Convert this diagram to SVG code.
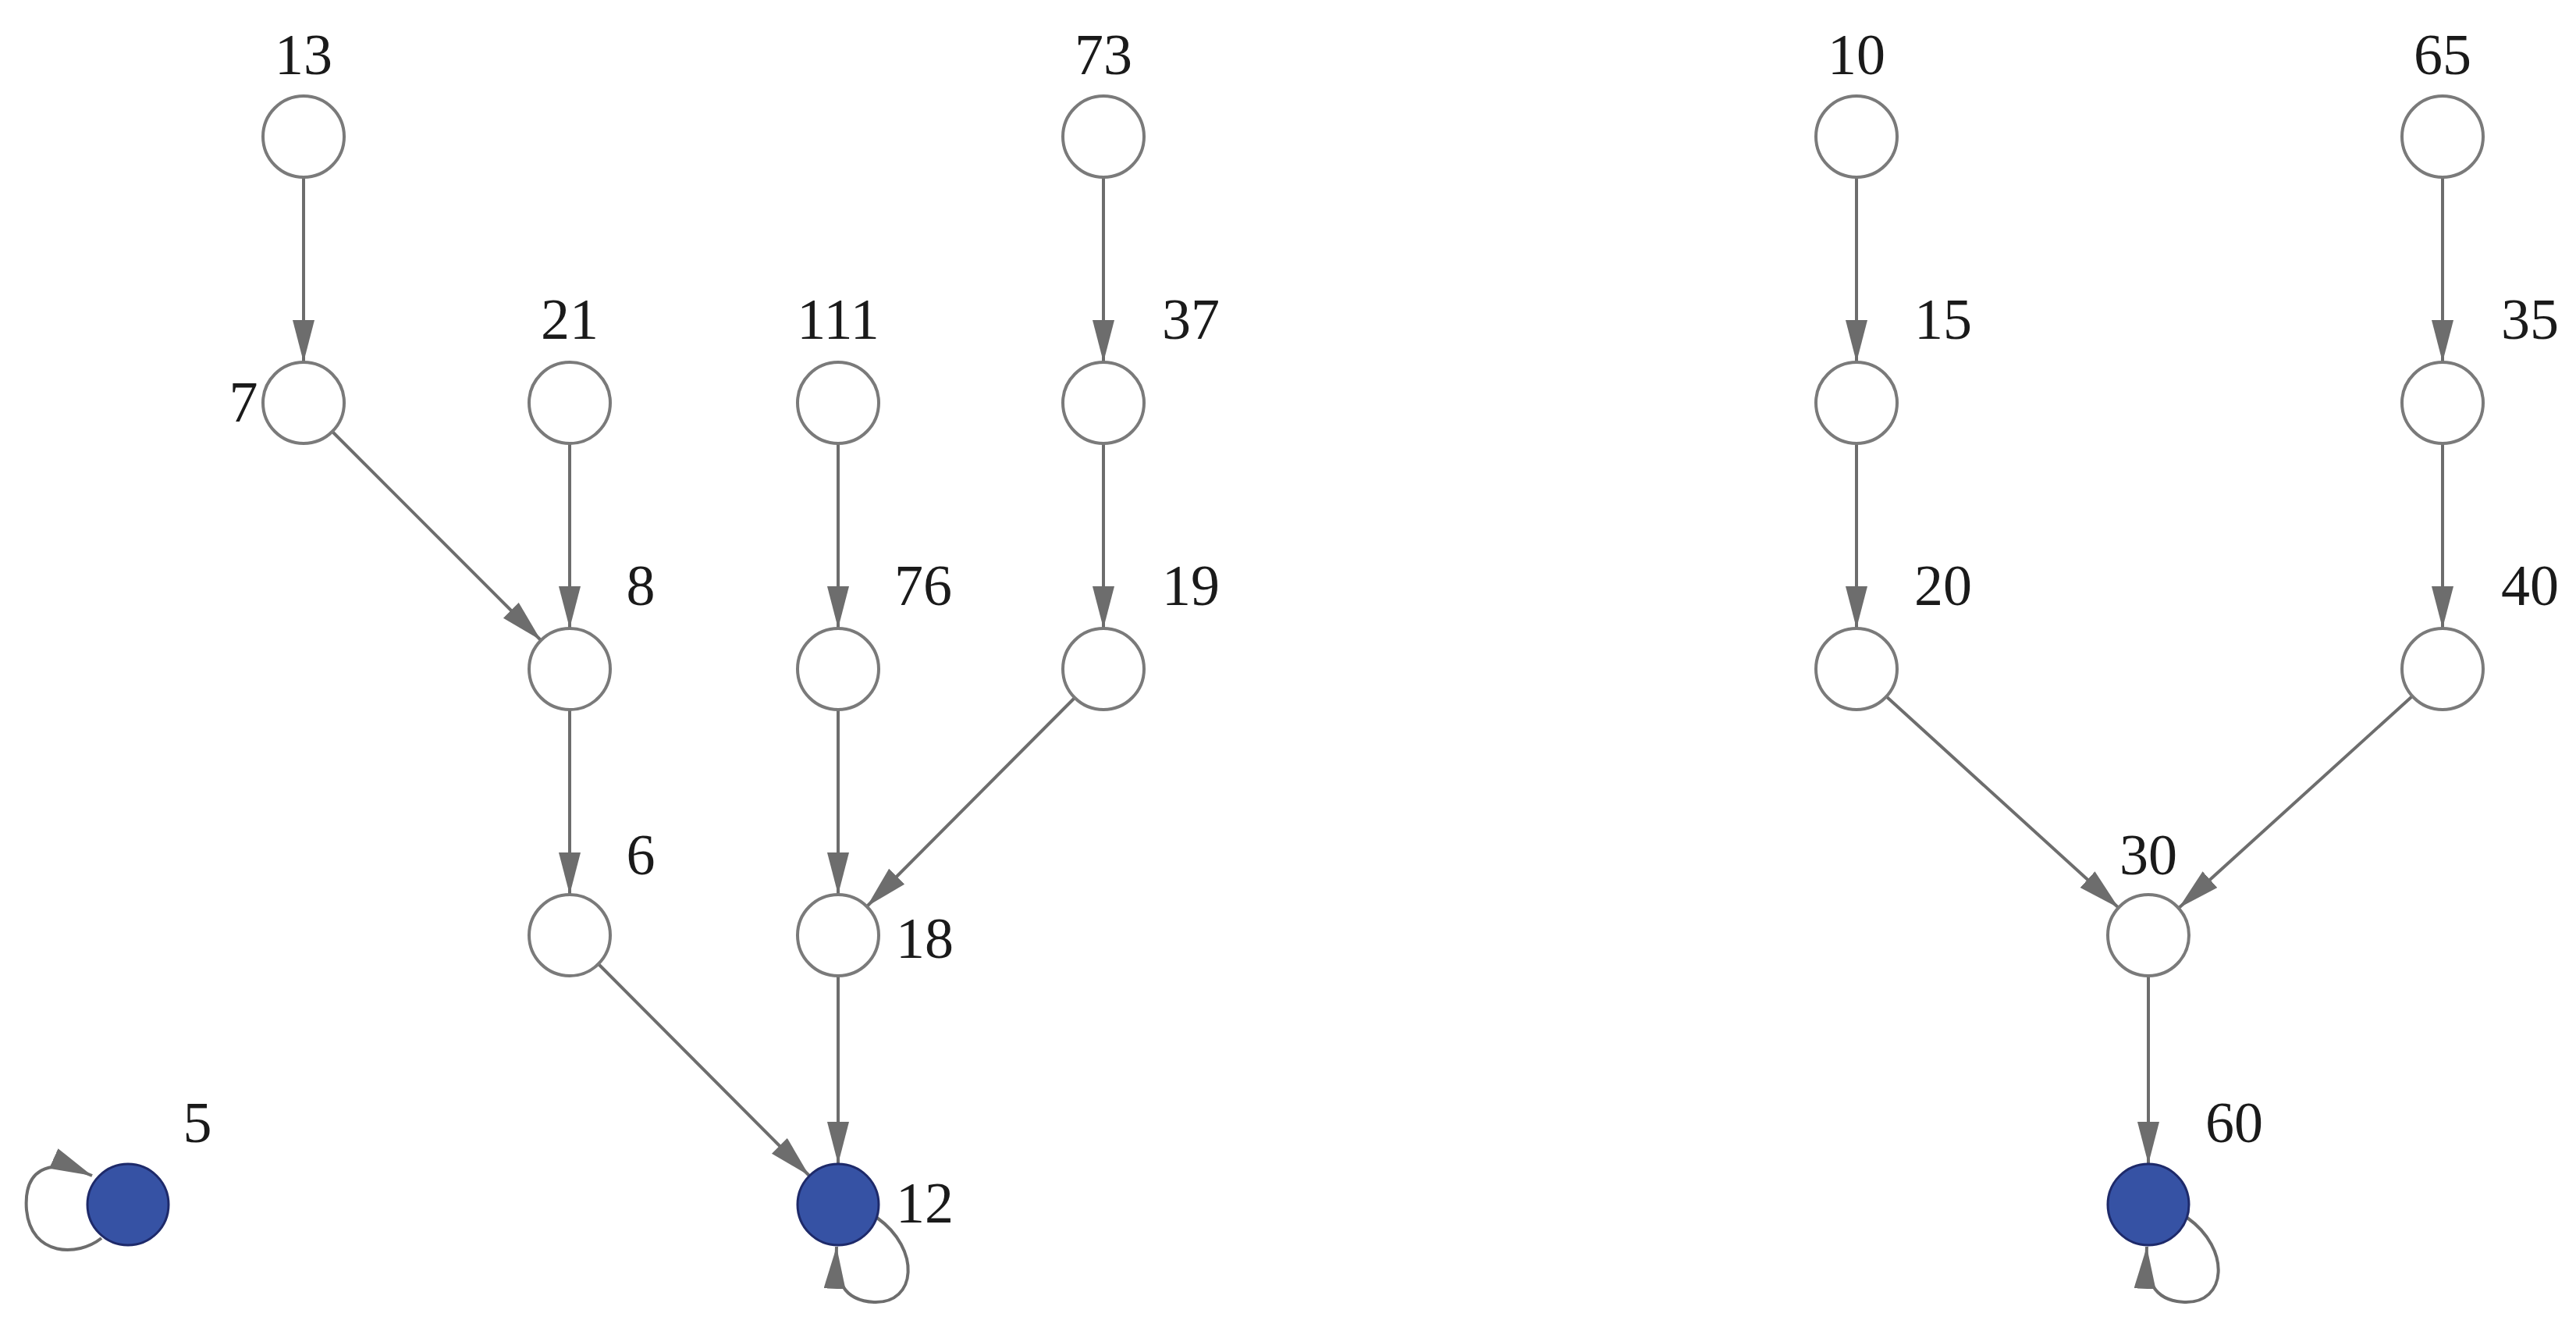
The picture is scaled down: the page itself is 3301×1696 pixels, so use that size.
<svg xmlns="http://www.w3.org/2000/svg" width="3301" height="1696" viewBox="0 0 3301 1696">
<style>
.n{fill:#fff;stroke:#7a7a7a;stroke-width:4}
.b{fill:#3652a4;stroke:#1e2a6a;stroke-width:3}
.t{font-family:"Liberation Serif",serif;font-size:74px;fill:#1a1a1a;text-anchor:middle}
.e{fill:none;stroke:#6d6d6d;stroke-width:4;marker-end:url(#a)}
</style>
<defs><marker id="a" markerUnits="userSpaceOnUse" markerWidth="56" markerHeight="30" refX="54" refY="14" orient="auto"><path d="M0,0 L54,14 L0,28 Z" fill="#6d6d6d"/></marker></defs>
<rect width="3301" height="1696" fill="#fff"/>
<g id="edges">
<line class="e" x1="389" y1="227" x2="389" y2="464"/>
<line class="e" x1="426" y1="553" x2="693" y2="820"/>
<line class="e" x1="730" y1="568" x2="730" y2="805"/>
<line class="e" x1="730" y1="909" x2="730" y2="1146"/>
<line class="e" x1="767" y1="1235" x2="1037" y2="1506"/>
<line class="e" x1="1074" y1="568" x2="1074" y2="805"/>
<line class="e" x1="1074" y1="909" x2="1074" y2="1146"/>
<line class="e" x1="1074" y1="1250" x2="1074" y2="1491"/>
<line class="e" x1="1414" y1="227" x2="1414" y2="464"/>
<line class="e" x1="1414" y1="568" x2="1414" y2="805"/>
<line class="e" x1="1377" y1="894" x2="1111" y2="1161"/>
<path class="e" d="M1124,1560 C1180,1600 1175,1670 1120,1668 C1080,1666 1070,1640 1072,1597"/>
<path class="e" d="M130,1586 C100,1610 40,1610 34,1550 C30,1500 60,1480 118,1506"/>
<line class="e" x1="2379" y1="227" x2="2379" y2="464"/>
<line class="e" x1="2379" y1="568" x2="2379" y2="805"/>
<line class="e" x1="3130" y1="227" x2="3130" y2="464"/>
<line class="e" x1="3130" y1="568" x2="3130" y2="805"/>
<line class="e" x1="2417" y1="892" x2="2715" y2="1163"/>
<line class="e" x1="3091" y1="892" x2="2792" y2="1163"/>
<line class="e" x1="2753" y1="1250" x2="2753" y2="1491"/>
<path class="e" d="M2803,1560 C2859,1600 2854,1670 2799,1668 C2759,1666 2749,1640 2751,1597"/>
</g>
<g id="n13"><circle class="n" cx="389" cy="175" r="52"/><text class="t" x="389" y="95">13</text></g>
<g id="n7"><circle class="n" cx="389" cy="516" r="52"/><text class="t" x="312" y="540">7</text></g>
<g id="n21"><circle class="n" cx="730" cy="516" r="52"/><text class="t" x="730" y="434">21</text></g>
<g id="n8"><circle class="n" cx="730" cy="857" r="52"/><text class="t" x="821" y="775">8</text></g>
<g id="n6"><circle class="n" cx="730" cy="1198" r="52"/><text class="t" x="821" y="1120">6</text></g>
<g id="n111"><circle class="n" cx="1074" cy="516" r="52"/><text class="t" x="1074" y="434">111</text></g>
<g id="n76"><circle class="n" cx="1074" cy="857" r="52"/><text class="t" x="1183" y="775">76</text></g>
<g id="n18"><circle class="n" cx="1074" cy="1198" r="52"/><text class="t" x="1185" y="1227">18</text></g>
<g id="n12"><circle class="b" cx="1074" cy="1543" r="52"/><text class="t" x="1185" y="1566">12</text></g>
<g id="n73"><circle class="n" cx="1414" cy="175" r="52"/><text class="t" x="1414" y="95">73</text></g>
<g id="n37"><circle class="n" cx="1414" cy="516" r="52"/><text class="t" x="1526" y="434">37</text></g>
<g id="n19"><circle class="n" cx="1414" cy="857" r="52"/><text class="t" x="1526" y="775">19</text></g>
<g id="n5"><circle class="b" cx="164" cy="1543" r="52"/><text class="t" x="253" y="1463">5</text></g>
<g id="n10"><circle class="n" cx="2379" cy="175" r="52"/><text class="t" x="2379" y="95">10</text></g>
<g id="n15"><circle class="n" cx="2379" cy="516" r="52"/><text class="t" x="2490" y="434">15</text></g>
<g id="n20"><circle class="n" cx="2379" cy="857" r="52"/><text class="t" x="2490" y="775">20</text></g>
<g id="n65"><circle class="n" cx="3130" cy="175" r="52"/><text class="t" x="3130" y="95">65</text></g>
<g id="n35"><circle class="n" cx="3130" cy="516" r="52"/><text class="t" x="3242" y="434">35</text></g>
<g id="n40"><circle class="n" cx="3130" cy="857" r="52"/><text class="t" x="3242" y="775">40</text></g>
<g id="n30"><circle class="n" cx="2753" cy="1198" r="52"/><text class="t" x="2753" y="1120">30</text></g>
<g id="n60"><circle class="b" cx="2753" cy="1543" r="52"/><text class="t" x="2863" y="1463">60</text></g>
</svg>
